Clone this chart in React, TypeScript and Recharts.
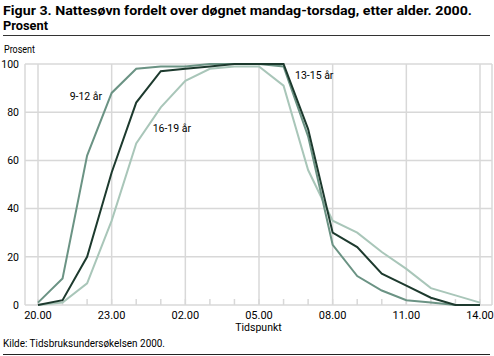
import { CartesianGrid, Line, LineChart, ReferenceDot, ReferenceLine, XAxis, YAxis } from 'recharts';

// Tidspunkt: 20.00 til 14.00, én verdi per time
const hourLabels = [
  '20.00', '21.00', '22.00', '23.00', '00.00', '01.00', '02.00', '03.00', '04.00', '05.00',
  '06.00', '07.00', '08.00', '09.00', '10.00', '11.00', '12.00', '13.00', '14.00',
];
const majorTicks = [0, 3, 6, 9, 12, 15, 18];
const yTicks = [0, 20, 40, 60, 80, 100];

// Prosent som sover, per aldersgruppe
const age9to12 = [1, 11, 62, 88, 98, 99, 99, 100, 100, 100, 99, 70, 25, 12, 6, 2, 1, 0, 0];
const age13to15 = [0, 2, 20, 55, 84, 97, 98, 99, 100, 100, 100, 73, 30, 24, 13, 8, 3, 0, 0];
const age16to19 = [0, 1, 9, 35, 67, 82, 93, 98, 99, 99, 91, 56, 35, 30, 22, 15, 7, 4, 1];

const seriesNames = ['9-12 år', '13-15 år', '16-19 år'];

const FONT = 'Roboto, "Open Sans", sans-serif';

const rows = hourLabels.map((label, i) => ({
  t: i,
  label,
  a: age9to12[i],
  b: age13to15[i],
  c: age16to19[i],
}));

const COLORS = { a: '#6b9384', b: '#1d3a2e', c: '#a9c6b9' };
const GRID = '#d8d8d8';
const tickStyle = { fontSize: 10.5, fill: '#000', fontFamily: FONT };

export default function App() {
  return (
    <div style={{ position: 'absolute', left: 0, top: 0, width: 494, height: 356, background: '#fff', fontFamily: FONT }}>
      <LineChart
        width={494}
        height={356}
        data={rows}
        margin={{ top: 64, right: 2, bottom: 21, left: 0 }}
      >
        <CartesianGrid stroke={GRID} strokeWidth={1.5} />
        <XAxis
          dataKey="t"
          type="number"
          domain={[0, 18]}
          ticks={majorTicks}
          tickFormatter={(v) => hourLabels[v]}
          padding={{ left: 13, right: 12 }}
          axisLine={false}
          tickLine={false}
          tickMargin={0}
          height={30}
          tick={{ ...tickStyle, fontSize: 11 }}
          label={{ value: 'Tidspunkt', position: 'insideBottom', offset: 4, fontSize: 10.5, fill: '#000', fontFamily: FONT }}
        />
        <YAxis
          type="number"
          domain={[0, 100]}
          ticks={yTicks}
          width={25}
          axisLine={false}
          tickLine={false}
          tickMargin={0}
          tick={tickStyle}
        />
        {hourLabels.map((_, i) => (
          <ReferenceLine
            key={i}
            segment={[{ x: i, y: 0 }, { x: i, y: 2.5 }]}
            stroke={GRID}
            strokeWidth={1.5}
          />
        ))}
        <Line dataKey="c" stroke={COLORS.c} strokeWidth={2} dot={false} isAnimationActive={false} />
        <Line dataKey="a" stroke={COLORS.a} strokeWidth={2} dot={false} isAnimationActive={false} />
        <Line dataKey="b" stroke={COLORS.b} strokeWidth={2} dot={false} isAnimationActive={false} />
        <ReferenceDot x={1.95} y={86.5} r={1} fill="none" stroke="none"
          label={{ value: seriesNames[0], position: 'center', ...tickStyle }} />
        <ReferenceDot x={11.25} y={95.5} r={1} fill="none" stroke="none"
          label={{ value: seriesNames[1], position: 'center', ...tickStyle }} />
        <ReferenceDot x={5.45} y={73.5} r={1} fill="none" stroke="none"
          label={{ value: seriesNames[2], position: 'center', ...tickStyle }} />
      </LineChart>
      <svg width={494} height={356} style={{ position: 'absolute', left: 0, top: 0, pointerEvents: 'none' }}>
        <text x={3} y={15} fontFamily={FONT} fontWeight={700} fontSize={13} textLength={469} lengthAdjust="spacingAndGlyphs">
          Figur 3. Nattesøvn fordelt over døgnet mandag-torsdag, etter alder. 2000.
        </text>
        <text x={3} y={30} fontFamily={FONT} fontWeight={700} fontSize={13} textLength={45} lengthAdjust="spacingAndGlyphs">
          Prosent
        </text>
        <line x1={3} x2={490} y1={35.5} y2={35.5} stroke="#333" strokeWidth={1} />
        <text x={4} y={53} fontFamily={FONT} fontSize={10.5} fill="#000" textLength={31} lengthAdjust="spacingAndGlyphs">Prosent</text>
        <text x={3} y={347} fontFamily={FONT} fontSize={10.5} fill="#000" textLength={162} lengthAdjust="spacingAndGlyphs">Kilde: Tidsbruksundersøkelsen 2000.</text>
        <line x1={3} x2={490} y1={354.5} y2={354.5} stroke="#222" strokeWidth={1} />
      </svg>
    </div>
  );
}
